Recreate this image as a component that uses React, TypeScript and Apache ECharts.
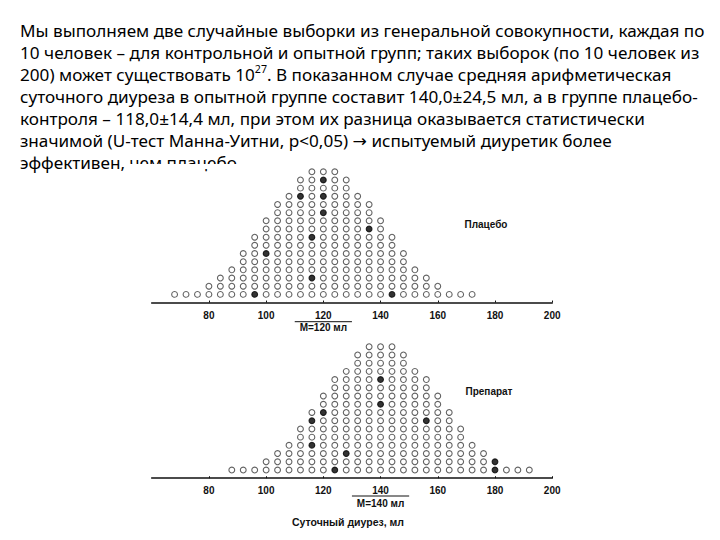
import React, { useEffect, useRef } from "react";
import * as echarts from "echarts";

// ---- text ----
const paragraphLines: string[] = [
  "Мы выполняем две случайные выборки из генеральной совокупности, каждая по",
  "10 человек – для контрольной и опытной групп; таких выборок (по 10 человек из",
  "200) может существовать 10{sup|27}. В показанном случае средняя арифметическая",
  "суточного диуреза в опытной группе составит 140,0±24,5 мл, а в группе плацебо-",
  "контроля – 118,0±14,4 мл, при этом их разница оказывается статистически",
  "значимой (U-тест Манна-Уитни, p<0,05) → испытуемый диуретик более",
  "эффективен, чем плацебо",
];

// ---- data ----
const xTicks = [60, 80, 100, 120, 140, 160, 180, 200];

const placeboBins = [68, 72, 76, 80, 84, 88, 92, 96, 100, 104, 108, 112, 116, 120, 124, 128, 132, 136, 140, 144, 148, 152, 156, 160, 164, 168, 172];
const placeboCounts = [1, 1, 1, 2, 3, 4, 6, 8, 10, 12, 13, 15, 16, 16, 16, 15, 13, 12, 10, 8, 6, 4, 3, 2, 1, 1, 1];
// sample of 10: [bin, stack level]
const placeboSample = [[120, 15], [112, 13], [120, 13], [120, 11], [136, 9], [116, 8], [100, 6], [116, 3], [96, 1], [144, 1]];
const placeboMean = 120;

const drugBins = [88, 92, 96, 100, 104, 108, 112, 116, 120, 124, 128, 132, 136, 140, 144, 148, 152, 156, 160, 164, 168, 172, 176, 180, 184, 188, 192];
const drugCounts = [1, 1, 1, 2, 3, 4, 6, 8, 10, 12, 13, 15, 16, 16, 16, 15, 13, 12, 10, 8, 6, 4, 3, 2, 1, 1, 1];
const drugSample = [[140, 12], [140, 9], [120, 8], [116, 7], [156, 7], [116, 4], [128, 3], [124, 1], [180, 2], [180, 1]];
const drugMean = 140;

const groupNames = ["Плацебо", "Препарат"];
const xAxisTitle = "Суточный диурез, мл";

function stackPoints(bins: number[], counts: number[], sample: number[][]) {
  const hollow: number[][] = [];
  const filled: number[][] = [];
  bins.forEach((b, i) => {
    for (let r = 1; r <= counts[i]; r++) {
      const isS = sample.some((s) => s[0] === b && s[1] === r);
      (isS ? filled : hollow).push([b, r]);
    }
  });
  return { hollow, filled };
}

export default function App() {
  const ref = useRef<HTMLDivElement>(null);
  useEffect(() => {
    const el = ref.current!;
    const chart = echarts.init(el, null, { renderer: "svg" });

    const font = '"Noto Sans", "DejaVu Sans", sans-serif';
    const ctx = document.createElement("canvas").getContext("2d")!;
    ctx.font = `100px "Noto Sans"`;
    const w = ctx.measureText(paragraphLines[0]).width;
    const paraSize = Math.max(12, Math.min(22, (100 * 685) / w));

    const p = stackPoints(placeboBins, placeboCounts, placeboSample);
    const d = stackPoints(drugBins, drugCounts, drugSample);

    const labelFont = '"Liberation Sans", Arial, sans-serif';
    const mkX = (gi: number) => ({
      type: "value" as const,
      gridIndex: gi,
      min: xTicks[0],
      max: xTicks[xTicks.length - 1],
      interval: 20,
      axisLine: { show: true, lineStyle: { color: "#111", width: 1.6 } },
      axisTick: { show: true, inside: true, length: 2, lineStyle: { color: "#111", width: 1 } },
      axisLabel: {
        showMinLabel: false,
        margin: 5,
        color: "#111",
        fontSize: 10,
        fontWeight: "bold" as const,
        fontFamily: labelFont,
      },
      splitLine: { show: false },
    });
    const mkY = (gi: number) => ({
      type: "value" as const,
      gridIndex: gi,
      min: -0.3,
      max: 16.5,
      show: false,
    });
    const hollowStyle = { color: "#fff", borderColor: "#3a3a3a", borderWidth: 1.1 };
    const filledStyle = { color: "#000", borderColor: "#000", borderWidth: 1.1 };

    chart.setOption({
      animation: false,
      backgroundColor: "#fff",
      grid: [
        { left: 151.7, width: 400.5, top: 167.7, height: 137.3 },
        { left: 151.7, width: 400.5, top: 342.6, height: 138.1 },
      ],
      xAxis: [mkX(0), mkX(1)],
      yAxis: [mkY(0), mkY(1)],
      series: [
        { type: "scatter", xAxisIndex: 0, yAxisIndex: 0, data: p.hollow, symbol: "circle", symbolSize: 5.8, itemStyle: hollowStyle, silent: true, z: 3 },
        { type: "scatter", xAxisIndex: 0, yAxisIndex: 0, data: p.filled, symbol: "circle", symbolSize: 5.8, itemStyle: filledStyle, silent: true, z: 3 },
        { type: "scatter", xAxisIndex: 1, yAxisIndex: 1, data: d.hollow, symbol: "circle", symbolSize: 5.8, itemStyle: hollowStyle, silent: true, z: 3 },
        { type: "scatter", xAxisIndex: 1, yAxisIndex: 1, data: d.filled, symbol: "circle", symbolSize: 5.8, itemStyle: filledStyle, silent: true, z: 3 },
      ],
    });

    const px = (gi: number, v: number) => chart.convertToPixel({ xAxisIndex: gi }, v) as number;

    const graphics: any[] = [];
    paragraphLines.forEach((line, i) => {
      graphics.push({
        type: "text",
        x: 20,
        y: 30 + i * 22,
        z: 0,
        silent: true,
        style: {
          text: line,
          fill: "#000",
          fontSize: paraSize,
          fontFamily: font,
          verticalAlign: "middle",
          align: "left",
          rich: {
            sup: {
              fontSize: paraSize * 0.62,
              fontFamily: font,
              fill: "#000",
              padding: [0, 0, paraSize * 0.55, 0],
            },
          },
        },
      });
    });
    // the chart picture covers the lower part of the last text line
    graphics.push({
      type: "rect",
      z: 1,
      silent: true,
      shape: { x: 130, y: 164, width: 590, height: 5 },
      style: { fill: "#fff" },
    });

    const boldText = (x: number, y: number, text: string, size = 10) => ({
      type: "text",
      x,
      y,
      z: 5,
      silent: true,
      style: {
        text,
        fill: "#111",
        fontSize: size,
        fontWeight: "bold",
        fontFamily: labelFont,
        align: "center",
        verticalAlign: "middle",
      },
    });

    const means = [
      { gi: 0, m: placeboMean, lineY: 321.7, textY: 327.5 },
      { gi: 1, m: drugMean, lineY: 496, textY: 503.5 },
    ];
    means.forEach(({ gi, m, lineY, textY }) => {
      graphics.push({
        type: "line",
        z: 5,
        silent: true,
        shape: { x1: px(gi, m - 10), y1: lineY, x2: px(gi, m + 10), y2: lineY },
        style: { stroke: "#111", lineWidth: 1 },
      });
      graphics.push(boldText(px(gi, m), textY, `M=${m} мл`));
    });

    graphics.push(boldText(486, 224.3, groupNames[0]));
    graphics.push(boldText(489, 391.7, groupNames[1]));
    graphics.push(boldText(348, 522.3, xAxisTitle, 10.5));

    chart.setOption({ graphic: graphics });

    return () => chart.dispose();
  }, []);
  return (
    <div
      ref={ref}
      style={{ position: "fixed", left: 0, top: 0, width: 720, height: 540, background: "#fff" }}
    />
  );
}
